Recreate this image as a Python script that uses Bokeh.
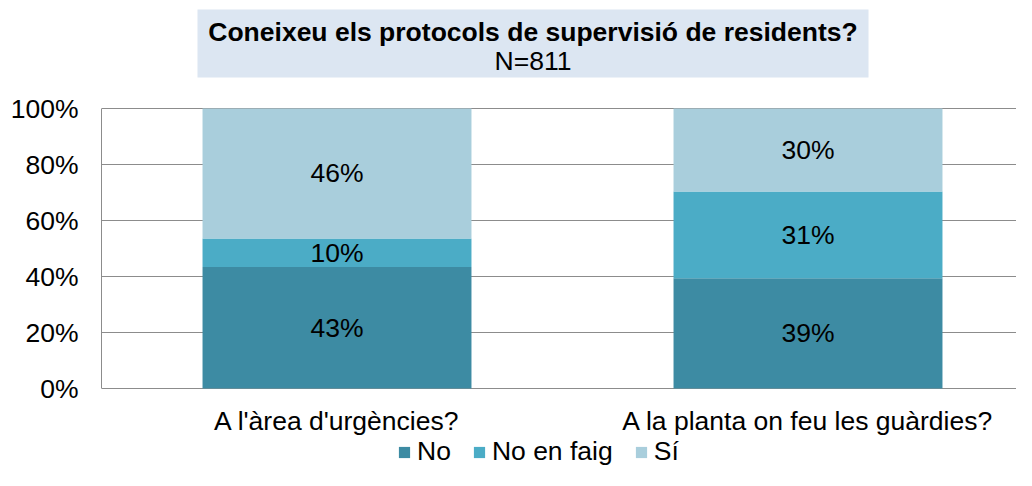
from bokeh.plotting import figure
from bokeh.models import (Range1d, FixedTicker, PrintfTickFormatter, Legend, LegendItem,
                          ColumnDataSource)
from bokeh.core.properties import value
from bokeh.embed import file_html
from bokeh.resources import INLINE

# ---- data ----
categories = ["A l'àrea d'urgències?", "A la planta on feu les guàrdies?"]
series = ["No", "No en faig", "Sí"]
no = [43.4, 39.4]
no_en_faig = [10.2, 31.0]
si = [46.4, 29.6]
y_ticks = [0, 20, 40, 60, 80, 100]
title_text = "Coneixeu els protocols de supervisió de residents?"
subtitle_text = "N=811"

colors = ["#3D8BA3", "#4BACC6", "#A9CEDC"]
FONT = "Liberation Sans"
FS = "26.5px"
W, H = 1016, 470
LEFT, TOP, BOTTOM = 101, 108, 388        # bar area, canvas pixels
CAT_PX = 471                              # pixels per category
PCT_PX = (BOTTOM - TOP) / 100.0           # pixels per percent


def X(px):  # canvas x pixel -> data x
    return (px - LEFT) / CAT_PX


def Y(py):  # canvas y pixel -> data y
    return 100 + (TOP - py) / PCT_PX


xpos = [i + 0.5 for i in range(len(categories))]
keys = ["no", "no_en_faig", "si"]
src = ColumnDataSource(dict(x=xpos, no=no, no_en_faig=no_en_faig, si=si))

p = figure(width=W, height=H, x_range=Range1d(0, X(W)), y_range=Range1d(Y(H), Y(0)),
           x_axis_type=None, output_backend="svg", toolbar_location=None,
           min_border_left=LEFT, min_border_right=0, min_border_top=0, min_border_bottom=0)
p.outline_line_color = None
p.title.visible = False

# title block (drawn inside the top part of the frame)
p.quad(left=X(197), right=X(868), top=Y(9), bottom=Y(77), fill_color="#DCE6F2", line_color=None)
p.text(x=[X(532.5)], y=[Y(31)], text=[title_text], text_align="center", text_baseline="middle",
       text_font=value(FONT), text_font_size=FS, text_font_style="bold", text_color="black")
p.text(x=[X(532.5)], y=[Y(60)], text=[subtitle_text], text_align="center", text_baseline="middle",
       text_font=value(FONT), text_font_size=FS, text_color="black")

# y axis and grid
p.yaxis.ticker = FixedTicker(ticks=y_ticks)
p.yaxis.formatter = PrintfTickFormatter(format="%d%%")
p.yaxis.bounds = (0, 100)
p.yaxis.axis_line_color = "#8C8C8C"
p.yaxis.major_tick_line_color = None
p.yaxis.minor_tick_line_color = None
p.yaxis.major_tick_out = 0
p.yaxis.major_tick_in = 0
p.yaxis.major_label_text_font = FONT
p.yaxis.major_label_text_font_size = FS
p.yaxis.major_label_text_color = "black"
p.yaxis.major_label_standoff = 23
p.ygrid.ticker = FixedTicker(ticks=y_ticks)
p.ygrid.grid_line_color = "#8C8C8C"

rs = p.vbar_stack(keys, x="x", width=0.571, color=colors, line_color=None, source=src)

# segment labels
lx, ly, lt = [], [], []
for i, x in enumerate(xpos):
    base = 0.0
    for arr in (no, no_en_faig, si):
        v = arr[i]
        lx.append(x)
        ly.append(base + v / 2)
        lt.append(f"{round(v)}%")
        base += v
p.text(x=lx, y=ly, text=lt, text_align="center", text_baseline="middle",
       text_font=value(FONT), text_font_size=FS, text_color="black")

# category labels under the bars
p.text(x=xpos, y=[Y(420)] * len(xpos), text=categories, text_align="center",
       text_baseline="middle", text_font=value(FONT), text_font_size=FS, text_color="black")

# legend
legend = Legend(items=[LegendItem(label=s, renderers=[r]) for s, r in zip(series, rs)],
                location=(296, 3), orientation="horizontal",
                glyph_width=14, glyph_height=14, label_standoff=6, spacing=21,
                padding=0, margin=0, border_line_color=None, background_fill_alpha=0,
                label_text_font=FONT, label_text_font_size=FS, label_text_color="black")
p.add_layout(legend, "center")

open("out.html", "w").write(file_html(p, INLINE))
